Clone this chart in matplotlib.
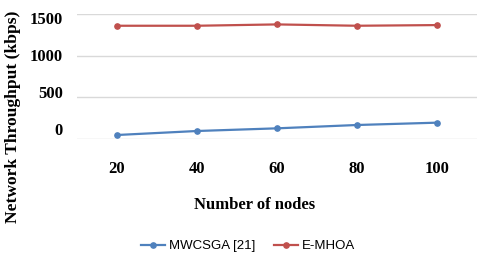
import matplotlib
matplotlib.use("Agg")
import matplotlib.pyplot as plt

nodes = ["20", "40", "60", "80", "100"]
mwcsga = [48, 96, 128, 168, 196]
emhoa = [1359, 1359, 1375, 1359, 1367]
yticks = [0, 500, 1000, 1500]
series_names = ["MWCSGA [21]", "E-MHOA"]

blue = "#4F81BD"
red = "#C0504D"

fig = plt.figure(figsize=(4.8, 2.59), dpi=100)
ax = fig.add_axes([77/480, 1-139/259, 400/480, 125/259])
x = list(range(len(nodes)))
l1, = ax.plot(x, mwcsga, color=blue, lw=1.6, marker="o", ms=3.8, label=series_names[0])
l2, = ax.plot(x, emhoa, color=red, lw=1.6, marker="o", ms=3.8, label=series_names[1])
ax.set_xlim(-0.5, len(nodes) - 0.5)
ax.set_ylim(0, 1500)
ax.set_yticks(yticks)
ax.yaxis.grid(True, color="#D9D9D9", lw=1)
ax.set_axisbelow(True)
for s in ax.spines.values():
    s.set_visible(False)
ax.set_xticks(x)
ax.set_xticklabels(nodes, fontfamily="Liberation Serif", fontweight="bold", fontsize=12)
ax.tick_params(axis="x", length=0, pad=16)
ax.tick_params(axis="y", length=0, labelleft=False)

# tick labels (offset as in reference)
ax2 = ax.twinx()
ax2.set_ylim(-135, 1554)
ax2.set_yticks(yticks)
ax2.set_yticklabels([str(v) for v in yticks], fontfamily="Liberation Serif", fontweight="bold", fontsize=12)
ax2.yaxis.set_ticks_position("left")
ax2.tick_params(axis="y", length=0, pad=10, left=False, right=False, labelleft=True, labelright=False)
for s in ax2.spines.values():
    s.set_visible(False)

ax.set_xlabel("Number of nodes", fontfamily="Liberation Serif", fontweight="bold", fontsize=12)
ax.xaxis.set_label_coords(0.443, -0.465)
ax.set_ylabel("Network Throughput (kbps)", fontfamily="Liberation Serif", fontweight="bold", fontsize=12.6)
ax.yaxis.set_label_coords(-0.14, 0.176)

fig.legend(handles=[l1, l2], loc="center", bbox_to_anchor=(248/480, 1-246/259), ncol=2,
           frameon=False, prop={"family": "Liberation Sans", "size": 9.5},
           handlelength=1.8, handletextpad=0.3, columnspacing=1.4)

fig.savefig("out.png", dpi=100)
